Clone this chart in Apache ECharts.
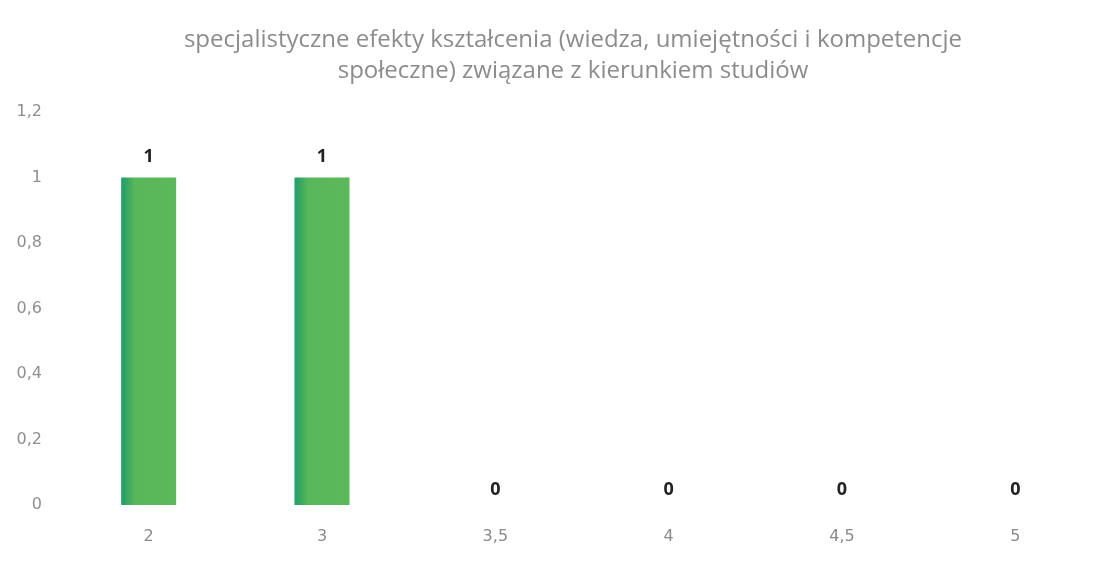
<!DOCTYPE html>
<html>
<head>
<meta charset="utf-8">
<script src="https://cdn.jsdelivr.net/npm/echarts@6/dist/echarts.min.js"></script>
<style>
  html, body { margin: 0; padding: 0; background: #fff; }
  #chart { width: 1120px; height: 568px; }
</style>
</head>
<body>
<div id="chart"></div>
<script>
const categories = ['2', '3', '3,5', '4', '4,5', '5']
const values = [1, 1, 0, 0, 0, 0]
const yTicks = ['0', '0,2', '0,4', '0,6', '0,8', '1', '1,2']

const chart = echarts.init(document.getElementById('chart'))
chart.setOption({
  title: {
    text: 'specjalistyczne efekty kształcenia (wiedza, umiejętności i kompetencje\nspołeczne) związane z kierunkiem studiów',
    left: 568,
    textAlign: 'center',
    top: 20,
    textStyle: {
      fontFamily: 'Open Sans',
      fontSize: 24,
      fontWeight: 'normal',
      color: '#8c8c8c',
      lineHeight: 31,
    },
  },
  grid: { left: 62, right: 18, top: 112, bottom: 63 },
  xAxis: {
    type: 'category',
    data: categories,
    axisLine: { show: false },
    axisTick: { show: false },
    axisLabel: {
      margin: 24,
      fontFamily: 'DejaVu Sans',
      fontSize: 16,
      color: '#8a8a8a',
    },
  },
  yAxis: {
    type: 'value',
    min: 0,
    max: 1.2,
    interval: 0.2,
    splitLine: { show: false },
    axisLabel: {
      margin: 20,
      fontFamily: 'DejaVu Sans',
      fontSize: 16,
      color: '#8f8f8f',
      formatter: function (v) {
        return yTicks[Math.round(v / 0.2)]
      },
    },
  },
  series: [
    {
      type: 'bar',
      barWidth: 55,
      // zero bars have their label closer to the baseline
      data: values.map(function (v) {
        return { value: v, label: { distance: v === 0 ? 6 : 12 } }
      }),
      itemStyle: {
        color: new echarts.graphic.LinearGradient(0, 0, 1, 0, [
          { offset: 0, color: '#1f9e6c' },
          { offset: 0.12, color: '#3aa862' },
          { offset: 0.25, color: '#58b75a' },
          { offset: 1, color: '#5cb95a' },
        ]),
      },
      label: {
        show: true,
        position: 'top',
        fontFamily: 'Open Sans',
        fontSize: 18,
        fontWeight: 'bold',
        color: '#222',
      },
    },
  ],
})
</script>
</body>
</html>
